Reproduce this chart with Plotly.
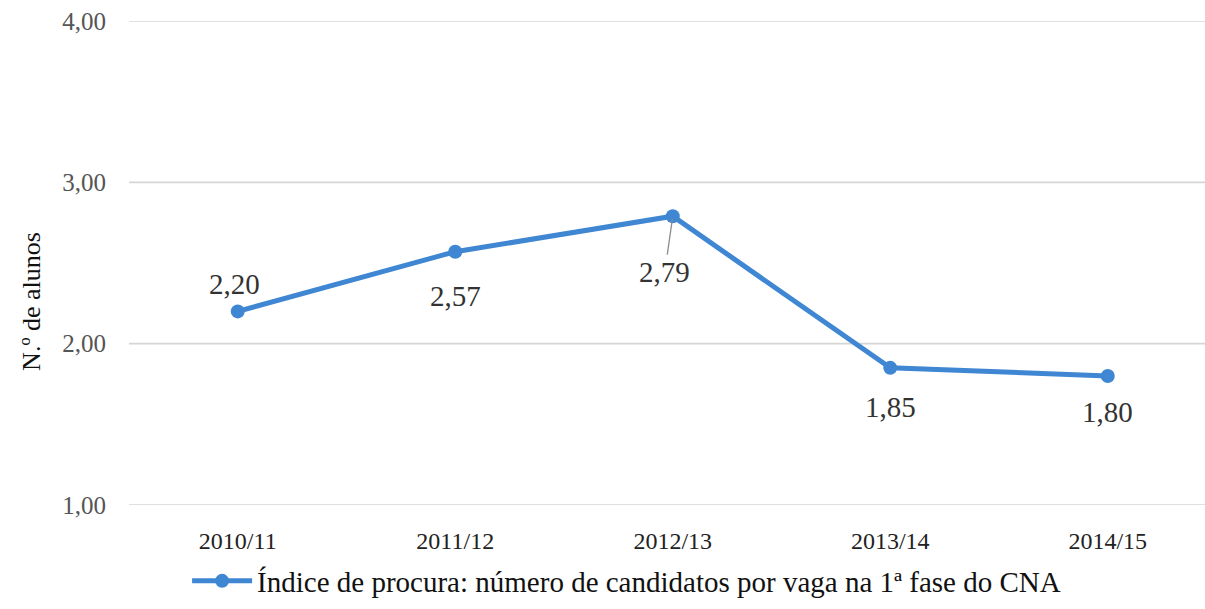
import plotly.graph_objects as go

categories = ["2010/11", "2011/12", "2012/13", "2013/14", "2014/15"]
values = [2.20, 2.57, 2.79, 1.85, 1.80]
labels = ["2,20", "2,57", "2,79", "1,85", "1,80"]
y_ticks = [1, 2, 3, 4]
y_tick_labels = ["1,00", "2,00", "3,00", "4,00"]
series_name = "Índice de procura: número de candidatos por vaga na 1ª fase do CNA"

BLUE = "#3f86d3"
FONT = "Liberation Serif, Times New Roman, serif"

fig = go.Figure()
fig.add_trace(go.Scatter(
    x=list(range(len(categories))), y=values, mode="lines+markers",
    name=series_name,
    line=dict(color=BLUE, width=5),
    marker=dict(color=BLUE, size=14),
))

# gridlines as shapes so the ones on the range edges show too
for t in y_ticks:
    fig.add_shape(type="line", xref="paper", x0=0, x1=1, yref="y", y0=t, y1=t,
                  line=dict(color="#d6d6d6", width=1.6), layer="below")

# data label offsets (pixels)
shifts = [(-3, 27), (0, -44), (0, -56), (0, -39), (0, -36)]
for i, (v, lab) in enumerate(zip(values, labels)):
    dx, dy = shifts[i]
    if i == 2:
        fig.add_annotation(x=i, y=v, text=lab, showarrow=True, ax=-8, ay=56,
                           arrowhead=0, arrowwidth=1.3, arrowcolor="#8c8c8c",
                           standoff=3, font=dict(family=FONT, size=29, color="#333333"))
    else:
        fig.add_annotation(x=i, y=v, text=lab, showarrow=False, xshift=dx, yshift=dy,
                           font=dict(family=FONT, size=29, color="#333333"))

fig.add_annotation(xref="paper", yref="paper", x=-0.09, y=0.42, text="N.º de alunos",
                   textangle=-90, showarrow=False, xanchor="center", yanchor="middle",
                   font=dict(family=FONT, size=26, color="#111111"))

fig.update_layout(
    width=1205, height=609,
    margin=dict(l=129, r=0, t=21, b=104, autoexpand=False),
    paper_bgcolor="white", plot_bgcolor="white",
    font=dict(family=FONT),
    showlegend=True,
    legend=dict(orientation="h", xref="container", x=0.52, xanchor="center",
                yref="container", y=0.046, yanchor="middle",
                font=dict(family=FONT, size=29, color="#111111"), itemwidth=60),
    xaxis=dict(
        tickmode="array", tickvals=list(range(len(categories))), ticktext=categories,
        range=[-0.5, 4.447], showgrid=False, zeroline=False, showline=False,
        ticks="", ticklabelstandoff=19,
        tickfont=dict(family=FONT, size=24, color="#222222"),
    ),
    yaxis=dict(
        range=[1, 4], tickmode="array", tickvals=y_ticks, ticktext=y_tick_labels,
        showgrid=False, zeroline=False, showline=False,
        ticks="", ticklabelstandoff=22,
        tickfont=dict(family=FONT, size=25, color="#555555"),
    ),
)

fig.write_html("out.html", config={"displayModeBar": False},
               post_script="document.body.style.margin='0';document.body.style.overflow='hidden';")
